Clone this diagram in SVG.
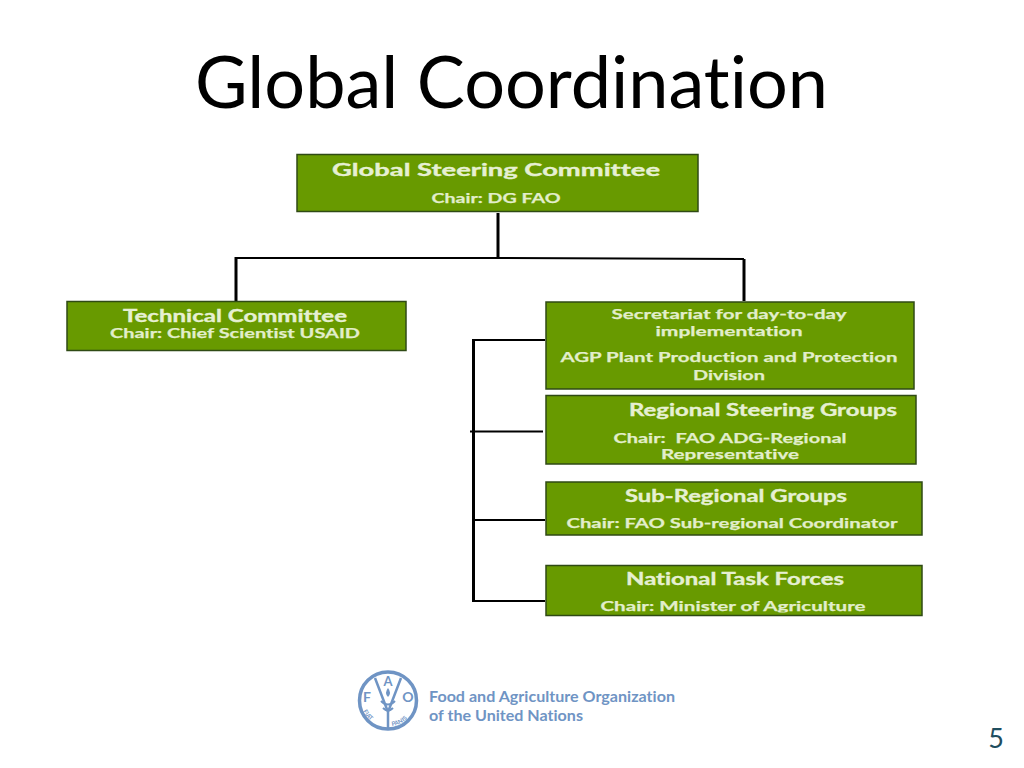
<svg xmlns="http://www.w3.org/2000/svg" xmlns:xlink="http://www.w3.org/1999/xlink" width="1024" height="768" viewBox="0 0 1024 768">
<style>
text{font-family:"Lato","Open Sans","Liberation Sans",sans-serif;font-variant-ligatures:none;white-space:pre}
.box{fill:#689a00;stroke:#2f4a14;stroke-width:1.5}
.h{fill:#e6f0d2;stroke:#e6f0d2;stroke-width:.35;font-weight:700;font-size:16.5px;text-anchor:middle}
.s{fill:#e2eecb;stroke:#e2eecb;stroke-width:.25;font-weight:700;font-size:14px;text-anchor:middle}
.c{fill:none;stroke:#000;stroke-width:2}
.c3{fill:none;stroke:#000;stroke-width:3}
.logo{fill:#6f94c4;font-weight:700}
.wh{fill:none;stroke:#6f94c4}
</style>
<defs>
<clipPath id="clipReg"><rect x="546" y="395" width="370" height="65.500"/></clipPath>
<clipPath id="clipNat"><rect x="546" y="565" width="376" height="47.500"/></clipPath>
<path id="arcL" d="M363 711A27 27 0 0 0 384 726"/>
<path id="arcR" d="M392 726A27 27 0 0 0 413 711"/>
</defs>
<rect width="1024" height="768" fill="#fff"/>
<text id="title" x="195" y="108" font-size="72" fill="#000" textLength="633" lengthAdjust="spacingAndGlyphs">Global Coordination</text>
<g id="connectors">
<path class="c3" d="M498 213V258"/>
<path class="c" d="M236 258L498 258L744 259"/>
<path class="c3" d="M236 257V301M744 259V301"/>
<path class="c3" d="M473.500 339V602"/>
<path class="c" d="M473 340H545M470 431.500H543M473 520H545M473 601H545"/>
</g>
<g id="global-steering">
<rect class="box" x="297" y="154.500" width="401" height="57"/>
<text class="h" x="496" y="175.500" textLength="328" lengthAdjust="spacingAndGlyphs">Global Steering Committee</text>
<text class="s" x="496" y="203" textLength="129" lengthAdjust="spacingAndGlyphs">Chair: DG FAO</text>
</g>
<g id="technical">
<rect class="box" x="67" y="301.500" width="339" height="49"/>
<text class="h" x="235" y="321.500" textLength="224" lengthAdjust="spacingAndGlyphs">Technical Committee</text>
<text class="s" x="235" y="338" textLength="250" lengthAdjust="spacingAndGlyphs">Chair: Chief Scientist USAID</text>
</g>
<g id="secretariat">
<rect class="box" x="546" y="302" width="368" height="87"/>
<text class="s" x="729" y="319" textLength="235" lengthAdjust="spacingAndGlyphs">Secretariat for day-to-day</text>
<text class="s" x="729" y="336" textLength="147" lengthAdjust="spacingAndGlyphs">implementation</text>
<text class="s" x="729" y="362" textLength="337" lengthAdjust="spacingAndGlyphs">AGP Plant Production and Protection</text>
<text class="s" x="729" y="380" textLength="72" lengthAdjust="spacingAndGlyphs">Division</text>
</g>
<g id="regional">
<rect class="box" x="546" y="395.500" width="370" height="68.500"/>
<text class="h" x="763" y="415.500" textLength="268" lengthAdjust="spacingAndGlyphs">Regional Steering Groups</text>
<text class="s" x="730" y="443" textLength="233" lengthAdjust="spacingAndGlyphs">Chair:  FAO ADG-Regional</text>
<text class="s" x="730" y="459" textLength="138" lengthAdjust="spacingAndGlyphs" clip-path="url(#clipReg)">Representative</text>
</g>
<g id="sub-regional">
<rect class="box" x="546" y="482" width="376" height="53"/>
<text class="h" x="736" y="501.500" textLength="222" lengthAdjust="spacingAndGlyphs">Sub-Regional Groups</text>
<text class="s" x="732" y="528" textLength="331" lengthAdjust="spacingAndGlyphs">Chair: FAO Sub-regional Coordinator</text>
</g>
<g id="national">
<rect class="box" x="546" y="565.500" width="376" height="50"/>
<text class="h" x="735" y="584.500" textLength="218" lengthAdjust="spacingAndGlyphs">National Task Forces</text>
<text class="s" x="733" y="611" textLength="265" lengthAdjust="spacingAndGlyphs" clip-path="url(#clipNat)">Chair: Minister of Agriculture</text>
</g>
<g id="fao-logo">
<circle cx="388" cy="700.500" r="28.500" fill="none" stroke="#6f94c4" stroke-width="3.500"/>
<path class="wh" stroke-width="2.500" d="M375 678L388 712L401 678M388 712V729"/>
<path class="wh" stroke-width="2" d="M381 701Q388 708 395 701M383 708Q388 713 393 708"/>
<path fill="#6f94c4" d="M388 688q4 5 0 9q-4-4 0-9z"/>
<text class="logo" x="388" y="686" font-size="13" text-anchor="middle">A</text>
<text class="logo" x="367" y="702" font-size="14" text-anchor="middle">F</text>
<text class="logo" x="408" y="702" font-size="14" text-anchor="middle">O</text>
<text class="logo" font-size="6" font-weight="400"><textPath href="#arcL" xlink:href="#arcL">FIAT</textPath></text>
<text class="logo" font-size="6" font-weight="400"><textPath href="#arcR" xlink:href="#arcR">PANIS</textPath></text>
<text class="logo" x="429" y="702" font-size="15.500" textLength="246" lengthAdjust="spacingAndGlyphs">Food and Agriculture Organization</text>
<text class="logo" x="429" y="721" font-size="15.500" textLength="154" lengthAdjust="spacingAndGlyphs">of the United Nations</text>
</g>
<text id="page-number" x="996" y="748" font-size="27" fill="#1f4e5f" text-anchor="middle">5</text>
</svg>
